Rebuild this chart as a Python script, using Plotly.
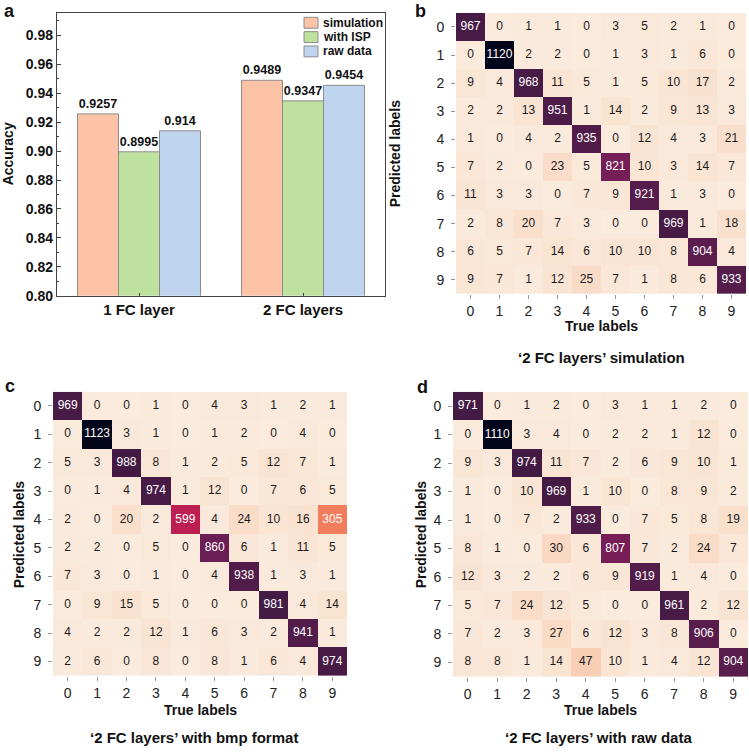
import plotly.graph_objects as go

W, H = 749, 754

# ---------------- data ----------------
groups = ["1 FC layer", "2 FC layers"]
series_names = ["simulation", "with ISP", "raw data"]
acc_simulation = [0.9257, 0.9489]
acc_isp = [0.8995, 0.9347]
acc_raw = [0.914, 0.9454]

digits = [0, 1, 2, 3, 4, 5, 6, 7, 8, 9]

cm_sim = [
    [967, 0, 1, 1, 0, 3, 5, 2, 1, 0],
    [0, 1120, 2, 2, 0, 1, 3, 1, 6, 0],
    [9, 4, 968, 11, 5, 1, 5, 10, 17, 2],
    [2, 2, 13, 951, 1, 14, 2, 9, 13, 3],
    [1, 0, 4, 2, 935, 0, 12, 4, 3, 21],
    [7, 2, 0, 23, 5, 821, 10, 3, 14, 7],
    [11, 3, 3, 0, 7, 9, 921, 1, 3, 0],
    [2, 8, 20, 7, 3, 0, 0, 969, 1, 18],
    [6, 5, 7, 14, 6, 10, 10, 8, 904, 4],
    [9, 7, 1, 12, 25, 7, 1, 8, 6, 933],
]
cm_bmp = [
    [969, 0, 0, 1, 0, 4, 3, 1, 2, 1],
    [0, 1123, 3, 1, 0, 1, 2, 0, 4, 0],
    [5, 3, 988, 8, 1, 2, 5, 12, 7, 1],
    [0, 1, 4, 974, 1, 12, 0, 7, 6, 5],
    [2, 0, 20, 2, 599, 4, 24, 10, 16, 305],
    [2, 2, 0, 5, 0, 860, 6, 1, 11, 5],
    [7, 3, 0, 1, 0, 4, 938, 1, 3, 1],
    [0, 9, 15, 5, 0, 0, 0, 981, 4, 14],
    [4, 2, 2, 12, 1, 6, 3, 2, 941, 1],
    [2, 6, 0, 8, 0, 8, 1, 6, 4, 974],
]
cm_raw = [
    [971, 0, 1, 2, 0, 3, 1, 1, 2, 0],
    [0, 1110, 3, 4, 0, 2, 2, 1, 12, 0],
    [9, 3, 974, 11, 7, 2, 6, 9, 10, 1],
    [1, 0, 10, 969, 1, 10, 0, 8, 9, 2],
    [1, 0, 7, 2, 933, 0, 7, 5, 8, 19],
    [8, 1, 0, 30, 6, 807, 7, 2, 24, 7],
    [12, 3, 2, 2, 6, 9, 919, 1, 4, 0],
    [5, 7, 24, 12, 5, 0, 0, 961, 2, 12],
    [7, 2, 3, 27, 6, 12, 3, 8, 906, 0],
    [8, 8, 1, 14, 47, 10, 1, 4, 12, 904],
]
panel_titles = ["\u20182 FC layers\u2019 simulation",
                "\u20182 FC layers\u2019 with bmp format",
                "\u20182 FC layers\u2019 with raw data"]

# ---------------- styles ----------------
FONT = "Liberation Sans, Arial, Helvetica, sans-serif"
bar_colors = ["#fcc3a6", "#bfe1a0", "#bfd4ef"]
rocket_r = [
    [0.0, "#faebdd"], [0.083, "#f6b48f"], [0.25, "#f58860"],
    [0.417, "#e13342"], [0.583, "#ad1759"], [0.75, "#701f57"],
    [0.917, "#35193e"], [1.0, "#03051a"],
]

def px_x(p):
    return p / W

def px_y(p):
    return 1 - p / H

fig = go.Figure()

# ---------------- panel a: bars ----------------
for name, vals, col in zip(series_names, [acc_simulation, acc_isp, acc_raw], bar_colors):
    fig.add_trace(go.Bar(
        x=groups, y=vals, name=name, showlegend=False,
        marker=dict(color=col, line=dict(color="#8c8c8c", width=1)),
        text=[str(v) for v in vals], textposition="outside",
        textfont=dict(family=FONT, size=12.5, color="#111", weight="bold"),
        cliponaxis=False,
        xaxis="x", yaxis="y",
    ))

# ---------------- heatmaps ----------------
def add_cm(cm, ax):
    zmax = max(max(r) for r in cm)
    fig.add_trace(go.Heatmap(
        z=cm, x=digits, y=digits, colorscale=rocket_r, zmin=0, zmax=zmax,
        showscale=False, xaxis="x" + ax, yaxis="y" + ax, hoverinfo="skip",
    ))
    xs, ys, ts, cs = [], [], [], []
    for i, row in enumerate(cm):
        for j, v in enumerate(row):
            xs.append(digits[j]); ys.append(digits[i]); ts.append(str(v))
            cs.append("#ffffff" if v > 0.18 * zmax else "#1a1a1a")
    fig.add_trace(go.Scatter(
        x=xs, y=ys, text=ts, mode="text",
        textfont=dict(family=FONT, size=12, color=cs),
        xaxis="x" + ax, yaxis="y" + ax, showlegend=False, hoverinfo="skip",
    ))

add_cm(cm_sim, "2")
add_cm(cm_bmp, "3")
add_cm(cm_raw, "4")

# ---------------- axes ----------------
hm_x_axis = dict(range=[-0.5, 9.5], tickvals=digits, ticks="outside", ticklen=4,
                 tickcolor="#999", tickwidth=1, showgrid=False, zeroline=False,
                 showline=False, tickfont=dict(family=FONT, size=14, color="#222"))
hm_y_axis = dict(range=[9.5, -0.5], tickvals=digits, ticks="outside", ticklen=4,
                 tickcolor="#999", tickwidth=1, showgrid=False, zeroline=False,
                 showline=False, tickfont=dict(family=FONT, size=14, color="#222"),
                 ticklabelstandoff=4)

dom = {
    "2": ([456, 746], [13, 297]),
    "3": ([53, 347], [396, 683]),
    "4": ([453, 748], [396, 684]),
}

layout = dict(
    width=W, height=H, margin=dict(l=0, r=0, t=0, b=0),
    paper_bgcolor="white", plot_bgcolor="white",
    barmode="group", bargap=0.25, bargroupgap=0,
    showlegend=False,
    xaxis=dict(domain=[px_x(57), px_x(385)], range=[-0.5, 1.5], anchor="y",
               showline=True, mirror=True, linecolor="#444", linewidth=1.3,
               ticks="inside", ticklen=3, tickcolor="#444", showgrid=False,
               tickfont=dict(family=FONT, size=15, color="#111", weight="bold")),
    yaxis=dict(domain=[px_y(299), px_y(13)], range=[0.80, 0.9955], anchor="x",
               tick0=0.80, dtick=0.02, tickformat=".2f",
               showline=True, mirror=True, linecolor="#444", linewidth=1.3,
               ticks="inside", ticklen=4, tickcolor="#444", showgrid=False,
               zeroline=False,
               minor=dict(dtick=0.01, ticks="inside", ticklen=2, tickcolor="#444"),
               tickfont=dict(family=FONT, size=14, color="#111", weight="bold")),
)
for ax, (xd, yd) in dom.items():
    layout["xaxis" + ax] = dict(hm_x_axis, domain=[px_x(xd[0]), px_x(xd[1])], anchor="y" + ax)
    layout["yaxis" + ax] = dict(hm_y_axis, domain=[px_y(yd[1]), px_y(yd[0])], anchor="x" + ax)

fig.update_layout(**layout)

# ---------------- compact legend (key) for panel a ----------------
legend_rows_px = [23, 37.5, 52]
for name, col, yc in zip(series_names, bar_colors, legend_rows_px):
    fig.add_shape(type="rect", xref="paper", yref="paper",
                  x0=px_x(304), x1=px_x(318), y0=px_y(yc + 5.5), y1=px_y(yc - 5.5),
                  fillcolor=col, line=dict(color="#8c8c8c", width=1))
    fig.add_annotation(text=name, x=px_x(321), y=px_y(yc), xref="paper", yref="paper",
                       showarrow=False, xanchor="left", yanchor="middle",
                       font=dict(family=FONT, size=12, color="#111", weight="bold"))

# ---------------- text annotations ----------------
def ann(text, x, y, size, angle=0, bold=True, xanchor="center"):
    fig.add_annotation(text=text, x=px_x(x), y=px_y(y), xref="paper", yref="paper",
                       showarrow=False, textangle=angle, xanchor=xanchor, yanchor="middle",
                       font=dict(family=FONT, size=size, color="#111",
                                 weight="bold" if bold else "normal"))

# panel letters
ann("a", 2, 11, 18, xanchor="left")
ann("b", 413, 11, 18, xanchor="left")
ann("c", 3, 390, 18, xanchor="left")
ann("d", 415, 391, 18, xanchor="left")

# panel a y title
ann("Accuracy", 8, 156, 14, angle=-90)

# heatmap axis titles
ann("True labels", 601, 330, 14)
ann("True labels", 200, 718, 14)
ann("True labels", 600, 718, 14)
ann("Predicted labels", 395, 155, 14, angle=-90)
ann("Predicted labels", 19, 540, 14, angle=-90)
ann("Predicted labels", 421, 540, 14, angle=-90)

# panel titles
ann(panel_titles[0], 601, 361, 15)
ann(panel_titles[1], 194, 745, 15)
ann(panel_titles[2], 598, 745, 15)

fig.write_html("out.html", config={"displayModeBar": False},
               post_script="document.body.style.margin='0px';")
